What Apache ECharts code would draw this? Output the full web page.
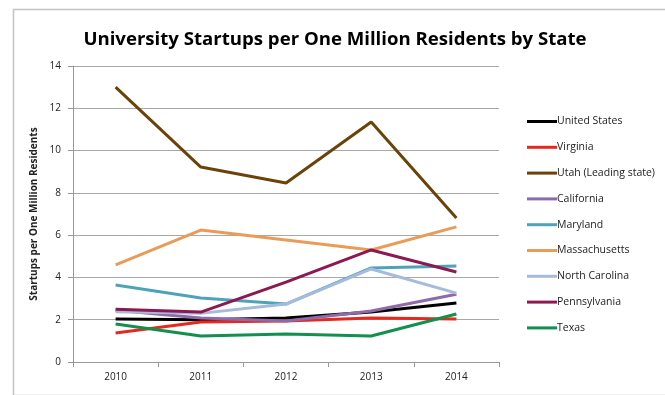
<!DOCTYPE html>
<html>
<head>
<meta charset="utf-8">
<title>University Startups</title>
<script src="https://cdn.jsdelivr.net/npm/echarts@6/dist/echarts.min.js"></script>
<style>
  body { margin: 0; background: #fff; }
  #main { width: 665px; height: 395px; }
</style>
</head>
<body>
<div id="main"></div>
<script>
var years = ['2010', '2011', '2012', '2013', '2014'];

var unitedStates   = [2.03, 2.0, 2.08, 2.37, 2.79];
var virginia       = [1.37, 1.89, 1.94, 2.08, 2.03];
var utah           = [13.0, 9.22, 8.47, 11.35, 6.81];
var california     = [2.45, 2.08, 1.94, 2.41, 3.2];
var maryland       = [3.64, 3.03, 2.74, 4.45, 4.54];
var massachusetts  = [4.59, 6.24, 5.77, 5.3, 6.39];
var northCarolina  = [2.38, 2.3, 2.74, 4.4, 3.26];
var pennsylvania   = [2.5, 2.36, 3.78, 5.3, 4.26];
var texas          = [1.8, 1.23, 1.32, 1.23, 2.27];

var seriesDefs = [
    ['United States', unitedStates, '#000000'],
    ['Virginia', virginia, '#e6291e'],
    ['Utah (Leading state)', utah, '#6b4309'],
    ['California', california, '#8e6aa8'],
    ['Maryland', maryland, '#4fa3b9'],
    ['Massachusetts', massachusetts, '#e99c5a'],
    ['North Carolina', northCarolina, '#a6badb'],
    ['Pennsylvania', pennsylvania, '#8c1a52'],
    ['Texas', texas, '#138f4f']
];

var chart = echarts.init(document.getElementById('main'));
chart.setOption({
    animation: false,
    textStyle: { fontFamily: 'Open Sans, sans-serif' },
    title: {
        text: 'University Startups per One Million Residents by State',
        left: 330, top: 25, textAlign: 'center',
        textStyle: { fontSize: 18.6, fontWeight: 'bold', color: '#000' }
    },
    graphic: [{
        type: 'rect', left: 11, top: 7, z: -1,
        shape: { width: 670, height: 386 },
        style: { fill: 'none', stroke: '#c4c4c4', lineWidth: 1.5 }
    }],
    legend: {
        orient: 'vertical', left: 522, top: 111,
        icon: 'rect', itemWidth: 30, itemHeight: 3, itemGap: 14.8,
        textStyle: { fontSize: 10.5, color: '#222', padding: [0, 0, 0, -5] },
        data: seriesDefs.map(function (d) { return d[0]; })
    },
    grid: { left: 73, right: 166, top: 66, bottom: 33 },
    xAxis: {
        type: 'category', data: years, boundaryGap: true,
        axisLine: { lineStyle: { color: '#999' } },
        axisTick: { show: true, length: 5, lineStyle: { color: '#999' } },
        axisLabel: { fontSize: 10, color: '#222', margin: 10 }
    },
    yAxis: {
        type: 'value', min: 0, max: 14, interval: 2,
        name: 'Startups per One Million Residents',
        nameLocation: 'middle', nameGap: 30, nameRotate: 90,
        nameTextStyle: { fontSize: 10, fontWeight: 'bold', color: '#222' },
        axisLine: { show: true, lineStyle: { color: '#999' } },
        axisTick: { show: true, length: 5, lineStyle: { color: '#999' } },
        axisLabel: { fontSize: 10, color: '#222', margin: 12 },
        splitLine: { lineStyle: { color: '#a8a8a8' } }
    },
    series: seriesDefs.map(function (d) {
        return {
            name: d[0], type: 'line', data: d[1],
            symbol: 'none', color: d[2],
            lineStyle: { width: 3, color: d[2] }
        };
    })
});
</script>
</body>
</html>
